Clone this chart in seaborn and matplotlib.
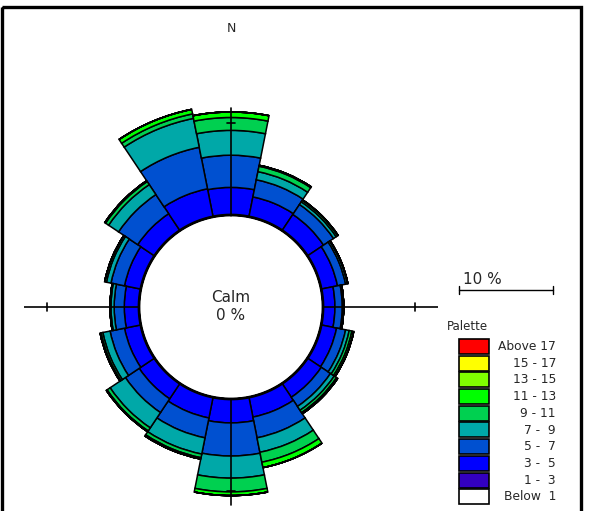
import numpy as np
import pandas as pd
import matplotlib
matplotlib.use('Agg')
import matplotlib.pyplot as plt
from matplotlib.patches import Rectangle
import seaborn as sns

# wind rose data (% of time), 16 directions, N clockwise
directions = ['N', 'NNE', 'NE', 'ENE', 'E', 'ESE', 'SE', 'SSE',
              'S', 'SSW', 'SW', 'WSW', 'W', 'WNW', 'NW', 'NNW']
classes = ['Below  1', '1 -  3', '3 -  5', '5 -  7', '7 -  9',
           '9 - 11', '11 - 13', '13 - 15', '15 - 17', 'Above 17']
class_colors = ['#FFFFFF', '#3300C0', '#0000FF', '#0050D0', '#00A8A8',
                '#00D050', '#00FF00', '#80FF00', '#FFFF00', '#FF0000']

below_1 = [0] * 16
speed_1_3 = [0] * 16
speed_3_5 = [3.0, 2.2, 2.1, 1.8, 1.3, 1.7, 1.8, 2.2, 2.6, 2.3, 2.0, 1.8, 1.6, 1.8, 2.2, 3.1]
speed_5_7 = [3.5, 1.9, 1.3, 0.9, 0.8, 1.0, 1.2, 2.3, 3.6, 2.2, 1.8, 1.6, 1.1, 1.5, 2.5, 4.6]
speed_7_9 = [2.7, 0.9, 0.35, 0.2, 0.1, 0.4, 0.5, 1.6, 2.4, 1.8, 2.0, 0.8, 0.35, 0.5, 1.3, 3.2]
speed_9_11 = [1.4, 0.6, 0.2, 0.05, 0.05, 0.3, 0.3, 1.1, 1.5, 0.4, 0.4, 0.2, 0.1, 0.2, 0.4, 0.5]
speed_11_13 = [0.6, 0.1, 0.05, 0, 0, 0.2, 0.15, 0.6, 0.4, 0.15, 0.1, 0.1, 0, 0, 0.1, 0.5]
speed_13_15 = [0] * 16
speed_15_17 = [0] * 16
above_17 = [0] * 16
calm_pct = 0

series = [below_1, speed_1_3, speed_3_5, speed_5_7, speed_7_9,
          speed_9_11, speed_11_13, speed_13_15, speed_15_17, above_17]
df = pd.DataFrame(np.array(series).T, index=directions, columns=classes)

sns.set_theme(style='white')
plt.rcParams['font.family'] = ['DejaVu Sans']

W, H = 607, 511
fig = plt.figure(figsize=(W / 100, H / 100), dpi=100)

# polar axes placed so that centre is at (231, 307) px
cx, cy, scale, rmax = 231, 307, 9.2, 22.5
rad_px = rmax * scale
ax = fig.add_axes([(cx - rad_px) / W, (H - cy - rad_px) / H, 2 * rad_px / W, 2 * rad_px / H],
                  projection='polar')
ax.set_theta_zero_location('N')
ax.set_theta_direction(-1)
ax.set_ylim(0, rmax)
ax.grid(False)
ax.set_xticks([])
ax.set_yticks([])
ax.spines['polar'].set_visible(False)
ax.set_facecolor('none')

calm_r = 10
theta = np.deg2rad(np.arange(16) * 22.5)
width = np.deg2rad(22.5)
bottom = np.full(16, float(calm_r))
for cls, col in zip(classes, class_colors):
    vals = df[cls].values
    ax.bar(theta, vals, width=width, bottom=bottom, color=col,
           edgecolor='black', linewidth=1.1, align='center', zorder=2)
    bottom = bottom + vals

# calm circle outline
t = np.linspace(0, 2 * np.pi, 400)
ax.plot(t, np.full_like(t, calm_r), color='black', lw=2, zorder=3)

# axis lines with 10 % tick
axis_len = {0: 21.6, 90: 22.6, 180: 21.5, 270: 22.8}
for ang, rl in axis_len.items():
    a = np.deg2rad(ang)
    ax.plot([a, a], [calm_r, rl], color='black', lw=1.2, zorder=4)
    d = 4 / ((calm_r + 10) * scale)
    ax.plot([a - d, a + d], [calm_r + 10, calm_r + 10], color='black', lw=1.2, zorder=4)

# overlay in pixel coordinates for frame, labels and legend
ov = fig.add_axes([0, 0, 1, 1], facecolor='none')
ov.set_xlim(0, W)
ov.set_ylim(H, 0)
ov.axis('off')

ov.add_patch(Rectangle((2, 7), 579, 520, fill=False, edgecolor='black', lw=2.4))
ov.text(231, 28, 'N', ha='center', va='center', fontsize=9)
ov.text(231, 297, 'Calm', ha='center', va='center', fontsize=11)
ov.text(231, 316, f'{calm_pct} %', ha='center', va='center', fontsize=11)

# scale bar
ov.text(482, 280, '10 %', ha='center', va='center', fontsize=11)
ov.plot([459, 553], [290, 290], color='black', lw=1)
ov.plot([459, 459], [286, 294], color='black', lw=1)
ov.plot([553, 553], [286, 294], color='black', lw=1)

# palette legend
ov.text(447, 327, 'Palette', ha='left', va='center', fontsize=8.5)
for i, (cls, col) in enumerate(zip(classes[::-1], class_colors[::-1])):
    top = 339 + i * 16.7
    ov.add_patch(Rectangle((459, top), 30, 15, facecolor=col, edgecolor='black', lw=1.2))
    ov.text(556, top + 7.5, cls, ha='right', va='center', fontsize=8.8)

fig.savefig('out.png', dpi=100, facecolor='white')
